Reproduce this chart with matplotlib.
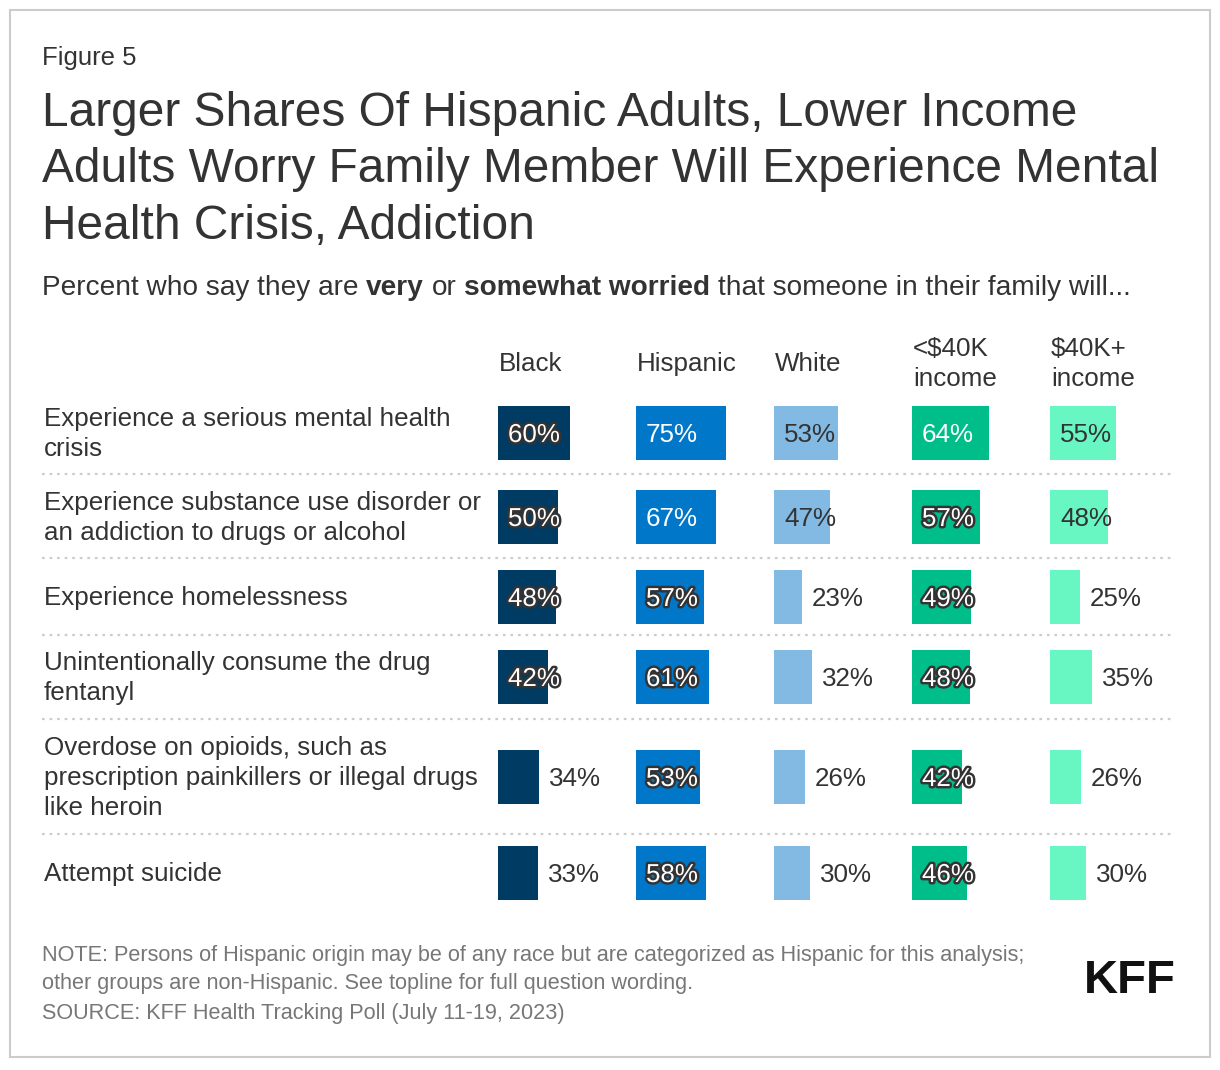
import matplotlib.pyplot as plt
import matplotlib.patheffects as pe
from matplotlib.patches import Rectangle
from matplotlib.lines import Line2D
from matplotlib.text import Annotation

plt.rcParams['font.family'] = ['Liberation Sans', 'DejaVu Sans']

# data
rows = [
    "Experience a serious mental health\ncrisis",
    "Experience substance use disorder or\nan addiction to drugs or alcohol",
    "Experience homelessness",
    "Unintentionally consume the drug\nfentanyl",
    "Overdose on opioids, such as\nprescription painkillers or illegal drugs\nlike heroin",
    "Attempt suicide",
]
groups = ["Black", "Hispanic", "White", "<$40K\nincome", "$40K+\nincome"]
black = [60, 50, 48, 42, 34, 33]
hispanic = [75, 67, 57, 61, 53, 58]
white = [53, 47, 23, 32, 26, 30]
low_inc = [64, 57, 49, 48, 42, 46]
high_inc = [55, 48, 25, 35, 26, 30]
series = [black, hispanic, white, low_inc, high_inc]

colors = ["#003B64", "#0077C8", "#82BAE3", "#00BE8A", "#68F7C2"]
dark_text = [False, False, True, False, True]

W, H = 1220, 1070
fig = plt.figure(figsize=(W / 100, H / 100), dpi=100)


def fx(x):
    return x / W


def fy(y):
    return 1 - y / H


FS = 18.7
TXT = "#333333"

# border
fig.patches.append(Rectangle((fx(10), fy(1057)), fx(1200), 1047 / H,
                             transform=fig.transFigure, fill=False,
                             edgecolor="#cccccc", linewidth=1.5))

# header texts
fig.text(fx(42), fy(58), "Figure 5", fontsize=18.5, color=TXT, va="center")
fig.text(fx(42), fy(170),
         "Larger Shares Of Hispanic Adults, Lower Income\n"
         "Adults Worry Family Member Will Experience Mental\n"
         "Health Crisis, Addiction",
         fontsize=34.5, color=TXT, va="center", linespacing=1.33)

# subtitle with bold pieces, chained one after another
sub_parts = [("Percent who say they are", "normal"), ("very", "bold"), ("or", "normal"),
             ("somewhat worried", "bold"), ("that someone in their family will...", "normal")]
sub_fs = 20.2
prev = fig.text(fx(42), fy(301), sub_parts[0][0], fontsize=sub_fs, color=TXT,
                va="bottom")
for s, w in sub_parts[1:]:
    ann = Annotation(s, xy=(1, 0), xycoords=prev, xytext=(0.278 * sub_fs, 0),
                     textcoords="offset points", fontsize=sub_fs, color=TXT,
                     fontweight=w, va="bottom", ha="left")
    fig.add_artist(ann)
    prev = ann

# layout
row_y = [433, 517, 597, 677, 777, 873]
sep_y = [474, 558, 635, 719, 834]
col_x = [498, 636, 774, 912, 1050]
px_per_pct = 1.2
top, bot = 395, 915

for y in sep_y:
    fig.lines.append(Line2D([fx(42), fx(1175)], [fy(y), fy(y)],
                            transform=fig.transFigure, color="#cccccc",
                            linestyle=(0, (1.2, 2.2)), linewidth=1.6))

for lab, y in zip(rows, row_y):
    fig.text(fx(44), fy(y + 1), lab, fontsize=FS, color=TXT,
             va="center", ha="left", linespacing=1.33)

for i, (vals, x0) in enumerate(zip(series, col_x)):
    ax = fig.add_axes([fx(x0), fy(bot), 100 * px_per_pct / W, (bot - top) / H])
    ax.set_xlim(0, 100)
    ax.set_ylim(bot, top)
    ax.axis("off")
    ax.barh(row_y, vals, height=54, color=colors[i])
    for v, y in zip(vals, row_y):
        txt = f"{v}%"
        ty = y + 2
        if v >= 40:
            if dark_text[i]:
                ax.text(8.3, ty, txt, fontsize=FS, color=TXT,
                        va="center", ha="left", clip_on=False)
            else:
                t = ax.text(8.3, ty, txt, fontsize=FS, color="white",
                            va="center", ha="left", clip_on=False)
                if v < 62:
                    t.set_path_effects([pe.withStroke(linewidth=3.5, foreground="#333333")])
        else:
            ax.text(v + 8.3, ty, txt, fontsize=FS, color=TXT,
                    va="center", ha="left", clip_on=False)
    fig.text(fx(x0 + 1), fy(364), groups[i], fontsize=FS, color=TXT,
             va="center", ha="left", linespacing=1.3)

# notes
NOTE = "#777777"
fig.text(fx(42), fy(956),
         "NOTE: Persons of Hispanic origin may be of any race but are categorized as Hispanic for this analysis;",
         fontsize=15.6, color=NOTE, va="center")
fig.text(fx(42), fy(984),
         "other groups are non-Hispanic. See topline for full question wording.",
         fontsize=15.6, color=NOTE, va="center")
fig.text(fx(42), fy(1013), "SOURCE: KFF Health Tracking Poll (July 11-19, 2023)",
         fontsize=15.6, color=NOTE, va="center")
fig.text(fx(1176), fy(981), "KFF", fontsize=34, fontweight="bold",
         color="#111111", va="center", ha="right")

fig.savefig("out.png", dpi=100, facecolor="white")
